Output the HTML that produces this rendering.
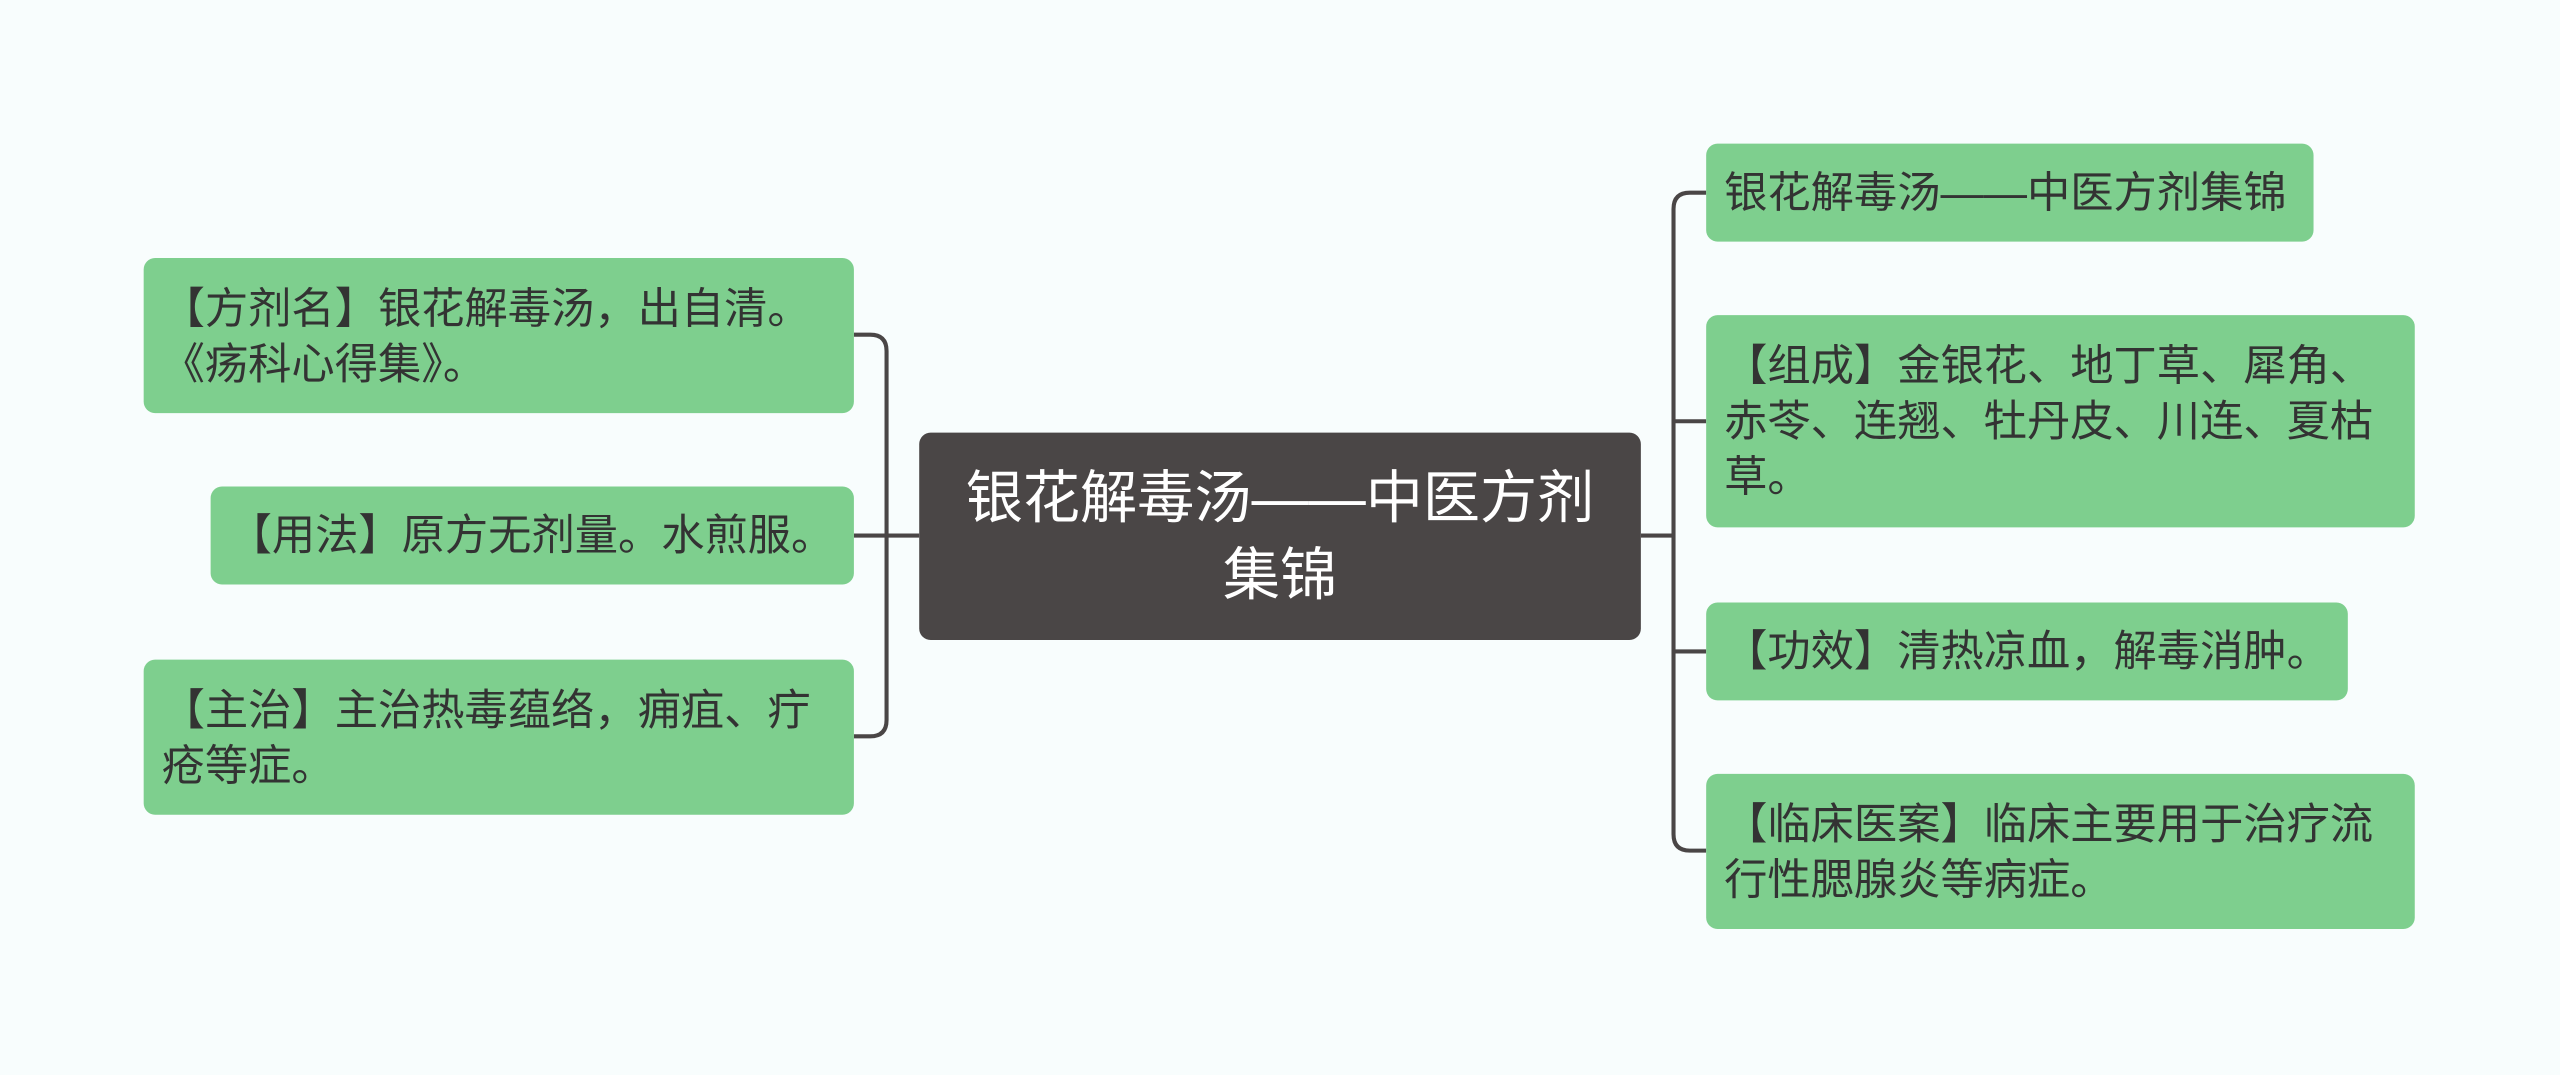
<!DOCTYPE html>
<html><head><meta charset="utf-8">
<style>
html,body{margin:0;padding:0;width:2560px;height:1075px;overflow:hidden;background:#f8fdfd;}
#w{position:absolute;left:0;top:0;width:1568px;height:657px;transform:scale(1.6327);transform-origin:0 0;font-family:"Liberation Sans","Noto Sans CJK SC",sans-serif;}
.n{position:absolute;background:#7ecf8e;border-radius:7px;color:#333;font-size:26.5px;line-height:34px;box-sizing:border-box;padding:14px 8px 0 11px;white-space:nowrap;}
.c{position:absolute;left:563px;top:265px;width:442px;height:127px;background:#4a4646;border-radius:7px;color:#fff;font-size:35px;line-height:47px;text-align:center;box-sizing:border-box;padding-top:17px;}
svg{position:absolute;left:0;top:0}
</style></head><body>
<div id="w">
<svg width="1568" height="657">
<g fill="none" stroke="#4a4646" stroke-width="2.5">
<path d="M563 328 H523"/>
<path d="M523 205 H533 Q543 205 543 215 V441 Q543 451 533 451 H523"/>
<path d="M1005 328 H1025"/>
<path d="M1045 118 H1035 Q1025 118 1025 128 V511 Q1025 521 1035 521 H1045"/>
<path d="M1025 258 H1045"/>
<path d="M1025 399 H1045"/>
</g>
</svg>
<div class="c">银花解毒汤——中医方剂<br>集锦</div>
<div class="n" style="left:88px;top:158px;width:435px;height:95px;">【方剂名】银花解毒汤，出自清。<br>《疡科心得集》。</div>
<div class="n" style="left:129px;top:298px;width:394px;height:60px;padding-top:13px;">【用法】原方无剂量。水煎服。</div>
<div class="n" style="left:88px;top:404px;width:435px;height:95px;">【主治】主治热毒蕴络，痈疽、疔<br>疮等症。</div>
<div class="n" style="left:1045px;top:88px;width:372px;height:60px;padding-top:13px;">银花解毒汤——中医方剂集锦</div>
<div class="n" style="left:1045px;top:193px;width:434px;height:130px;">【组成】金银花、地丁草、犀角、<br>赤苓、连翘、牡丹皮、川连、夏枯<br>草。</div>
<div class="n" style="left:1045px;top:369px;width:393px;height:60px;padding-top:13px;">【功效】清热凉血，解毒消肿。</div>
<div class="n" style="left:1045px;top:474px;width:434px;height:95px;">【临床医案】临床主要用于治疗流<br>行性腮腺炎等病症。</div>
</div>
</body></html>
